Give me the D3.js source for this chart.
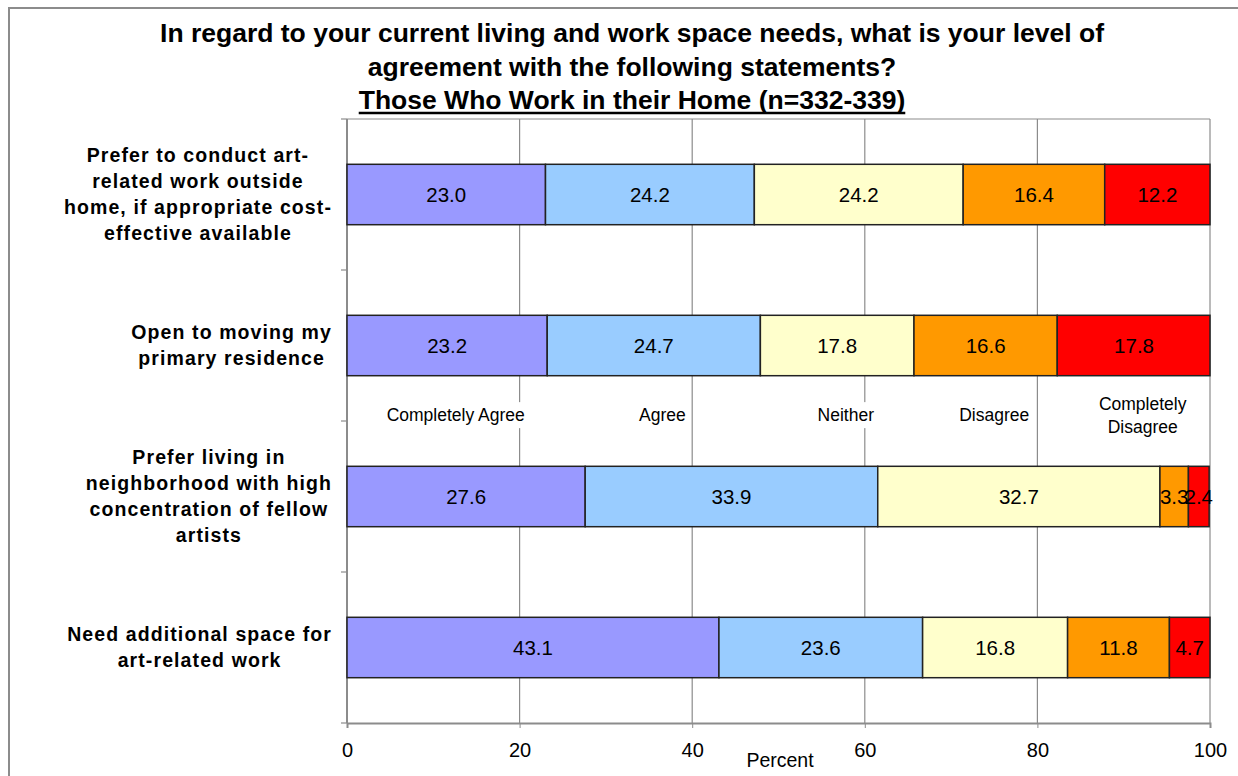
<!DOCTYPE html>
<html>
<head>
<meta charset="utf-8">
<script src="https://cdn.jsdelivr.net/npm/d3@7"></script>
<style>
  body { margin: 0; background: #fff; }
  svg { display: block; font-family: "Liberation Sans", Arial, sans-serif; }
</style>
</head>
<body>
<div id="chart"></div>
<script>
// chart values
var categories = [
  ["Prefer to conduct art-", "related work outside", "home, if appropriate cost-", "effective available"],
  ["Open to moving my", "primary residence"],
  ["Prefer living in", "neighborhood with high", "concentration of fellow", "artists"],
  ["Need additional space for", "art-related work"]
];
var seriesNames = ["Completely Agree", "Agree", "Neither", "Disagree", "Completely Disagree"];
var completelyAgree    = [23.0, 23.2, 27.6, 43.1];
var agree              = [24.2, 24.7, 33.9, 23.6];
var neither            = [24.2, 17.8, 32.7, 16.8];
var disagree           = [16.4, 16.6, 3.3, 11.8];
var completelyDisagree = [12.2, 17.8, 2.4, 4.7];
var xTicks = [0, 20, 40, 60, 80, 100];

var titleLines = [
  "In regard to your current living and work space needs, what is your level of",
  "agreement with the following statements?",
  "Those Who Work in their Home (n=332-339)"
];

var palette = ["#9999ff", "#99ccff", "#ffffcc", "#ff9900", "#ff0000"];

var width = 1238, height = 776;
var margin = {left: 347, right: 28, top: 119, bottom: 53};

var svg = d3.select("#chart").append("svg")
  .attr("width", width).attr("height", height);

// outer frame
svg.append("path")
  .attr("d", "M9," + height + " L9,8 L" + width + ",8")
  .attr("fill", "none").attr("stroke", "#8c8c8c").attr("stroke-width", 2);

// title
var titleGroup = svg.append("g");
titleLines.forEach(function(t, i){
  var tx = titleGroup.append("text")
    .attr("x", 632).attr("y", 42 + i*33.5)
    .attr("text-anchor", "middle")
    .attr("font-size", 26.5)
    .attr("font-weight", "bold")
    .text(t);
  if(i == 2){
    var bb = tx.node().getBBox();
    titleGroup.append("line")
      .attr("x1", bb.x).attr("x2", bb.x + bb.width)
      .attr("y1", 113).attr("y2", 113)
      .attr("stroke", "black").attr("stroke-width", 2.5);
  }
});

var x = d3.scaleLinear().domain([0, 100]).range([margin.left, width - margin.right]);
var y = d3.scaleBand().domain(d3.range(categories.length))
  .range([margin.top, height - margin.bottom])
  .paddingInner(0.6).paddingOuter(0.3);

var chartGroup = svg.append("g");

// gridlines
chartGroup.append("g").selectAll("line")
  .data(xTicks.slice(1)).enter()
  .append("line")
    .attr("x1", function(d){ return x(d); })
    .attr("x2", function(d){ return x(d); })
    .attr("y1", margin.top).attr("y2", height - margin.bottom)
    .attr("stroke", "#8c8c8c").attr("stroke-width", 1.2);

// plot frame top
chartGroup.append("line")
  .attr("x1", x(0)).attr("x2", x(100)).attr("y1", margin.top).attr("y2", margin.top)
  .attr("stroke", "#8c8c8c").attr("stroke-width", 1.2);

// x axis
var xAxis = chartGroup.append("g").attr("class", "axis axis--x")
  .attr("transform", "translate(0," + (height - margin.bottom) + ")")
  .call(d3.axisBottom(x).tickValues(xTicks).tickSize(5).tickPadding(15));
xAxis.select(".domain").attr("stroke", "#8c8c8c").attr("stroke-width", 2);
xAxis.selectAll(".tick line").attr("stroke", "#8c8c8c");
xAxis.selectAll(".tick text").attr("font-size", 20).attr("fill", "black")
  .attr("font-family", "Liberation Sans, Arial, sans-serif");

chartGroup.append("text")
  .attr("x", 780).attr("y", 767)
  .attr("text-anchor", "middle").attr("font-size", 19.5)
  .text("Percent");

// y axis: line + ticks at band boundaries
var yAxis = chartGroup.append("g").attr("class", "axis axis--y");
yAxis.append("line")
  .attr("x1", x(0)).attr("x2", x(0)).attr("y1", margin.top).attr("y2", height - margin.bottom)
  .attr("stroke", "#8c8c8c").attr("stroke-width", 2);
var boundaries = d3.range(categories.length + 1).map(function(i){ return margin.top + i*y.step(); });
yAxis.selectAll(".tk").data(boundaries).enter()
  .append("line").attr("class", "tk")
  .attr("x1", x(0) - 6).attr("x2", x(0))
  .attr("y1", function(d){ return d; }).attr("y2", function(d){ return d; })
  .attr("stroke", "#8c8c8c").attr("stroke-width", 1.2);

// category labels: wrapped block right-aligned near the axis, lines centred in the block
var labelRight = 332;
categories.forEach(function(lines, i){
  var cy = y(i) + y.bandwidth()/2;
  var lh = 26;
  var t = chartGroup.append("text")
    .attr("text-anchor", "middle")
    .attr("font-size", 19.5)
    .attr("font-weight", "bold")
    .attr("letter-spacing", 1.1);
  var spans = lines.map(function(l, j){
    return t.append("tspan")
      .attr("y", cy + (j - (lines.length - 1)/2)*lh)
      .attr("dy", "0.35em")
      .text(l);
  });
  var maxW = d3.max(spans, function(s){ return s.node().getComputedTextLength(); });
  spans.forEach(function(s){ s.attr("x", labelRight - maxW/2); });
});

// stacked data
var series = [completelyAgree, agree, neither, disagree, completelyDisagree];
var rows = categories.map(function(c, i){
  var acc = 0;
  return series.map(function(s, k){
    var d = {row: i, k: k, x0: acc, x1: acc + s[i], v: s[i]};
    acc += s[i];
    return d;
  });
});

var barGroup = chartGroup.append("g");
rows.forEach(function(r){
  barGroup.append("g").selectAll("rect")
    .data(r).enter()
    .append("rect")
      .attr("x", function(d){ return x(d.x0); })
      .attr("y", function(d){ return y(d.row); })
      .attr("width", function(d){ return x(Math.min(d.x1, 100)) - x(d.x0); })
      .attr("height", y.bandwidth())
      .attr("fill", function(d){ return palette[d.k]; })
      .attr("stroke", "#222")
      .attr("stroke-width", 1.5);
  barGroup.append("g").selectAll("text")
    .data(r).enter()
    .append("text")
      .attr("x", function(d){ return x((d.x0 + d.x1)/2); })
      .attr("y", function(d){ return y(d.row) + y.bandwidth()/2; })
      .attr("dy", "0.35em")
      .attr("text-anchor", "middle")
      .attr("font-size", 20.5)
      .text(function(d){ return d.v.toFixed(1); });
});

// series labels placed between second and third bars
var legendGroup = chartGroup.append("g");
var legendY = (y(1) + y.bandwidth() + y(2))/2 - 6;
rows[1].forEach(function(d, k){
  var words = seriesNames[k] == "Completely Disagree" ? ["Completely", "Disagree"] : [seriesNames[k]];
  var g = legendGroup.append("g");
  var bg = g.append("rect").attr("fill", "white");
  var t = g.append("text")
    .attr("text-anchor", "middle")
    .attr("font-size", 17.5);
  words.forEach(function(w, j){
    t.append("tspan")
      .attr("x", x((d.x0 + d.x1)/2 + 1))
      .attr("y", legendY + (j - (words.length - 1)/2)*23)
      .attr("dy", "0.35em")
      .text(w);
  });
  var bb = t.node().getBBox();
  bg.attr("x", bb.x - 4).attr("y", bb.y - 3).attr("width", bb.width + 8).attr("height", bb.height + 6);
});
</script>
</body>
</html>
